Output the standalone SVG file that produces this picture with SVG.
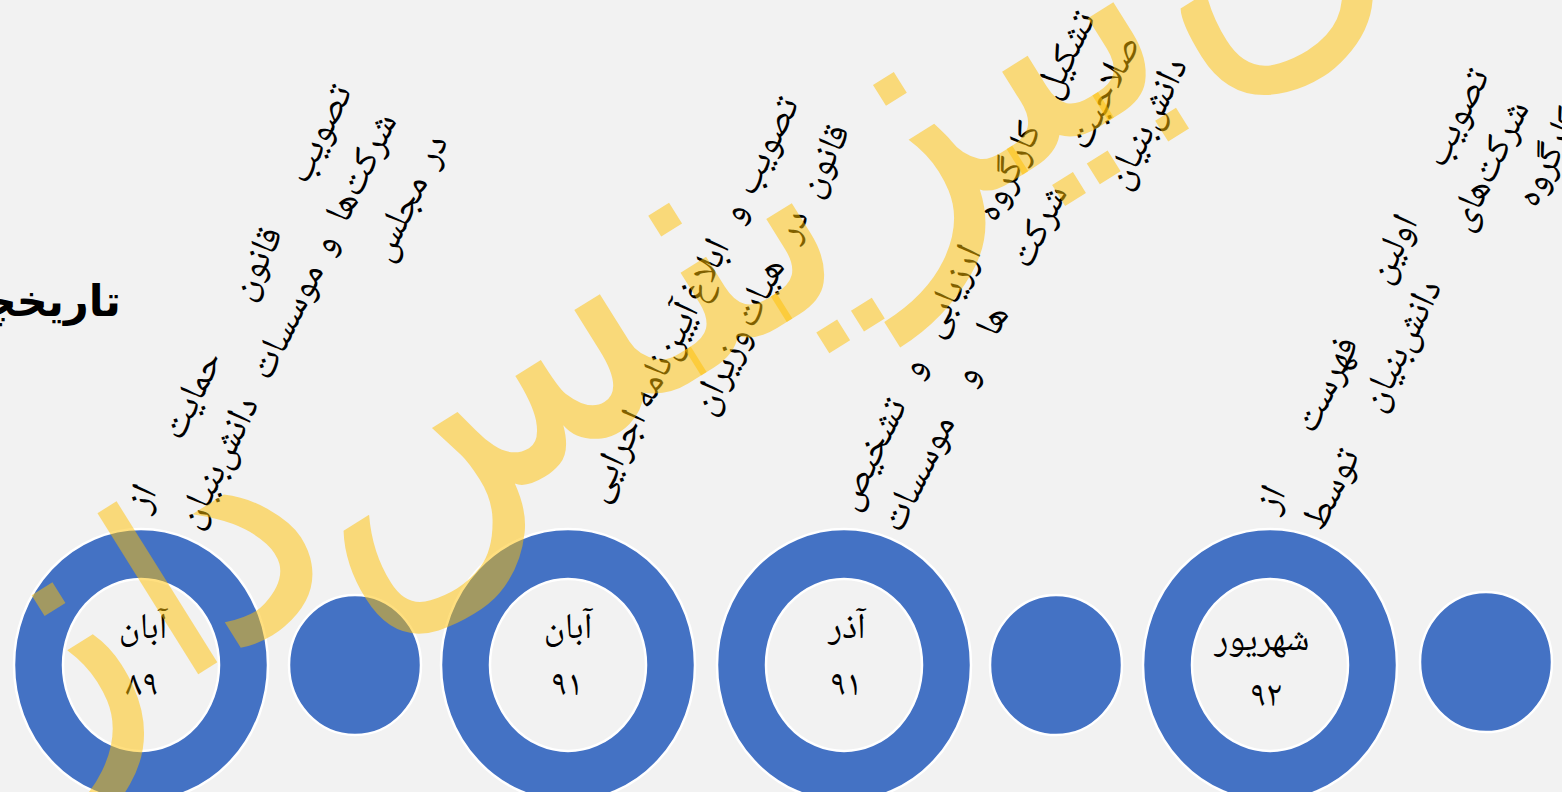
<svg xmlns="http://www.w3.org/2000/svg" width="1562" height="792" viewBox="0 0 1562 792">
<defs>
<style>
.bg{fill:#F2F2F2}
.ring{fill:#4472C4;stroke:#FFFFFF;stroke-width:2.5}
.hole{fill:#F2F2F2;stroke:#FFFFFF;stroke-width:2.5}
.t{font-family:"Noto Naskh Arabic","Noto Sans Arabic","DejaVu Sans",sans-serif;font-size:38px;fill:#000;text-anchor:middle}
.d{font-family:"Noto Naskh Arabic","Noto Sans Arabic","DejaVu Sans",sans-serif;font-size:36px;fill:#000;text-anchor:middle}
.title{font-family:"DejaVu Sans",sans-serif;font-weight:bold;font-size:43px;fill:#000;text-anchor:end}
.wm{font-family:"DejaVu Sans",sans-serif;font-size:335px;fill:#FFC000;fill-opacity:0.5;text-anchor:middle}
</style>
</defs>
<rect class="bg" x="0" y="0" width="1562" height="792"/>
<g id="title"><text class="title" x="121" y="316">تاریخچه</text></g>
<g id="connectors"></g>
<g id="node-aban-89">
<ellipse class="ring" cx="141" cy="665" rx="127" ry="136"/>
<ellipse class="hole" cx="141" cy="665" rx="78" ry="86"/>
<text class="d" x="143" y="638">آبان</text>
<text class="d" x="142" y="695">۸۹</text>
<g transform="rotate(-64)">
<text class="t" x="20" y="357">تصویب</text>
<text class="t" x="-124" y="357">قانون</text>
<text class="t" x="-271" y="357">حمایت</text>
<text class="t" x="-385" y="357">از</text>
<text class="t" x="8" y="410">شرکت‌ها</text>
<text class="t" x="-77" y="410">و</text>
<text class="t" x="-163" y="410">موسسات</text>
<text class="t" x="-320" y="410">دانش‌بنیان</text>
<text class="t" x="54" y="465">در</text>
<text class="t" x="-21" y="465">مجلس</text>
</g>
</g>
<g id="dot-1"><ellipse class="ring" cx="355" cy="665" rx="66" ry="70"/></g>
<g id="node-aban-91">
<ellipse class="ring" cx="568" cy="665" rx="127" ry="136"/>
<ellipse class="hole" cx="568" cy="665" rx="78" ry="86"/>
<text class="d" x="568" y="638">آبان</text>
<text class="d" x="567" y="695">۹۱</text>
<g transform="rotate(-64)">
<text class="t" x="205" y="764">تصویب</text>
<text class="t" x="131" y="764">و</text>
<text class="t" x="66" y="764">ابلاغ</text>
<text class="t" x="-28" y="764">آیین‌نامه</text>
<text class="t" x="-140" y="764">اجرایی</text>
<text class="t" x="217" y="822">قانون</text>
<text class="t" x="145" y="822">در</text>
<text class="t" x="70" y="822">هیات</text>
<text class="t" x="-17" y="822">وزیران</text>
</g>
</g>
<g id="node-azar-91">
<ellipse class="ring" cx="844" cy="665" rx="127" ry="136"/>
<ellipse class="hole" cx="844" cy="665" rx="78" ry="86"/>
<text class="d" x="847" y="638">آذر</text>
<text class="d" x="846" y="695">۹۱</text>
<g transform="rotate(-64)">
<text class="t" x="418" y="993">تشکیل</text>
<text class="t" x="288" y="993">کارگروه</text>
<text class="t" x="155" y="993">ارزیابی</text>
<text class="t" x="70" y="993">و</text>
<text class="t" x="-26" y="993">تشخیص</text>
<text class="t" x="401" y="1044">صلاحیت</text>
<text class="t" x="252" y="1044">شرکت</text>
<text class="t" x="147" y="1044">ها</text>
<text class="t" x="86" y="1044">و</text>
<text class="t" x="-23" y="1044">موسسات</text>
<text class="t" x="392" y="1096">دانش‌بنیان</text>
</g>
</g>
<g id="dot-2"><ellipse class="ring" cx="1056" cy="665" rx="66" ry="70"/></g>
<g id="node-shahrivar-92">
<ellipse class="ring" cx="1270" cy="665" rx="127" ry="136"/>
<ellipse class="hole" cx="1270" cy="665" rx="78" ry="86"/>
<text class="d" x="1262" y="650">شهریور</text>
<text class="d" x="1266" y="706">۹۲</text>
<g transform="rotate(-64)">
<text class="t" x="533" y="1372">تصویب</text>
<text class="t" x="387" y="1372">اولین</text>
<text class="t" x="236" y="1372">فهرست</text>
<text class="t" x="109" y="1372">از</text>
<text class="t" x="504" y="1422">شرکت‌های</text>
<text class="t" x="304" y="1422">دانش‌بنیان</text>
<text class="t" x="144" y="1422">توسط</text>
<text class="t" x="590" y="1472" style="text-anchor:end">کارگروه</text>
</g>
</g>
<g id="dot-3"><ellipse class="ring" cx="1486" cy="662" rx="66" ry="70"/></g>
<g id="watermark" transform="rotate(-32)">
<text class="wm" x="1088" y="712">ن</text>
<text class="wm" x="472" y="690">بیزینس</text>
<text class="wm" x="-85" y="677">د</text>
<text class="wm" x="-178" y="677" style="font-size:250px">ا</text>
<text class="wm" x="-310" y="677">ز</text>
</g>
</svg>
